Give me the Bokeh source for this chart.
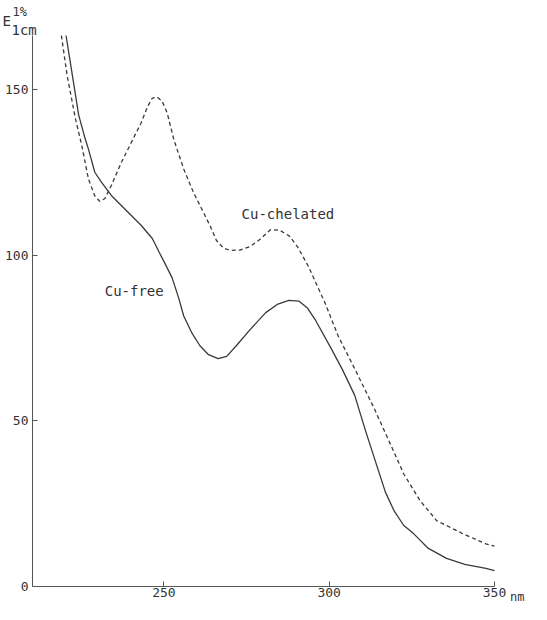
from bokeh.plotting import figure
from bokeh.models import Range1d, FixedTicker, Label
from bokeh.embed import file_html
from bokeh.resources import INLINE

# Cu-chelated (dashed)
wl_chelated = [219.0, 220.7, 223.2, 225.2, 227.2, 229.1, 230.6, 232.1, 234.1, 237.1,
               240.1, 243.1, 245.1, 246.5, 248.0, 249.5, 251.0, 253.0, 256.0, 258.9,
               261.9, 263.9, 265.9, 268.0, 270.0, 273.0, 276.0, 279.0, 282.3, 285.0,
               288.0, 290.5, 293.7, 298.7, 302.7, 307.7, 313.6, 318.6, 322.6, 327.5,
               332.5, 340.5, 347.4, 350.0]
abs_chelated = [166.4, 154.5, 141.5, 133.0, 123.0, 118.0, 116.3, 117.1, 121.1, 128.0,
                134.0, 140.0, 145.0, 147.5, 147.8, 146.5, 143.0, 135.0, 126.1, 119.1,
                113.1, 109.1, 104.5, 102.2, 101.5, 101.6, 102.6, 104.8, 107.8, 107.6,
                105.8, 102.5, 96.7, 85.7, 75.7, 65.8, 53.8, 42.8, 33.9, 25.9,
                19.9, 15.9, 12.9, 12.2]

# Cu-free (solid)
wl_free = [220.4, 222.3, 224.2, 226.1, 227.2, 229.1, 231.1, 234.1, 238.1, 243.1,
           246.5, 248.5, 250.5, 252.5, 254.5, 256.0, 258.5, 260.9, 263.5, 266.4,
           269.0, 271.9, 276.0, 280.8, 284.5, 287.8, 290.8, 293.5, 295.7, 300.7,
           304.0, 307.7, 311.0, 314.6, 317.0, 319.6, 322.5, 325.6, 330.0, 335.5,
           341.0, 347.4, 350.0]
abs_free = [166.4, 154.5, 142.5, 135.5, 132.0, 125.1, 122.1, 118.1, 114.1, 109.1,
            105.1, 101.1, 97.2, 93.2, 87.0, 81.7, 76.5, 72.7, 70.0, 68.8,
            69.5, 72.7, 77.5, 82.7, 85.3, 86.4, 86.2, 84.0, 80.7, 71.7,
            65.5, 57.8, 47.0, 35.9, 28.5, 22.9, 18.5, 15.9, 11.5, 8.5,
            6.7, 5.5, 4.8]

x_ticks = [250, 300, 350]
y_ticks = [0, 50, 100, 150]
x_axis_span = (210.26, 350)
y_axis_span = (0, 166.4)

FONT = "DejaVu Sans Mono"
INK = "#3a3a3a"
TXT = "#333333"

# frame covers the whole canvas; axes are pinned inside it
p = figure(width=531, height=604, output_backend="svg", toolbar_location=None,
           x_range=Range1d(200.581, 361.191), y_range=Range1d(-5.436, 176.97),
           min_border_left=0, min_border_right=0, min_border_top=0,
           min_border_bottom=0)
p.outline_line_color = None
p.grid.visible = False
p.background_fill_color = "white"
p.border_fill_color = "white"

p.line(wl_chelated, abs_chelated, line_color=INK, line_width=1.3, line_dash="4 3")
p.line(wl_free, abs_free, line_color=INK, line_width=1.3)

p.xaxis.ticker = FixedTicker(ticks=x_ticks)
p.yaxis.ticker = FixedTicker(ticks=y_ticks)
p.xaxis.fixed_location = y_axis_span[0]
p.xaxis.bounds = x_axis_span
p.yaxis.fixed_location = x_axis_span[0]
p.yaxis.bounds = y_axis_span
for ax in (p.xaxis, p.yaxis):
    ax.axis_line_color = "#555555"
    ax.axis_line_width = 1
    ax.major_tick_line_color = "#555555"
    ax.major_tick_in = 5
    ax.major_tick_out = 0
    ax.minor_tick_line_color = None
    ax.major_label_text_font = FONT
    ax.major_label_text_font_size = "13px"
    ax.major_label_text_color = TXT
p.xaxis.major_label_standoff = 2
p.yaxis.major_label_standoff = 4

def lab(x, y, t, size, baseline="alphabetic"):
    p.add_layout(Label(x=x, y=y, text=t, text_font=FONT, text_font_size=size,
                       text_color=TXT, text_baseline=baseline))

lab(273.5, 112.4, "Cu-chelated", "14px", "middle")
lab(232.1, 89.2, "Cu-free", "14px", "middle")
lab(354.689, -3.322, "nm", "12px")
lab(201.186, 170.93, "E", "14px")
lab(204.211, 173.35, "1%", "12px")
lab(203.908, 168.21, "1cm", "14px")

open("out.html", "w").write(file_html(p, INLINE))
